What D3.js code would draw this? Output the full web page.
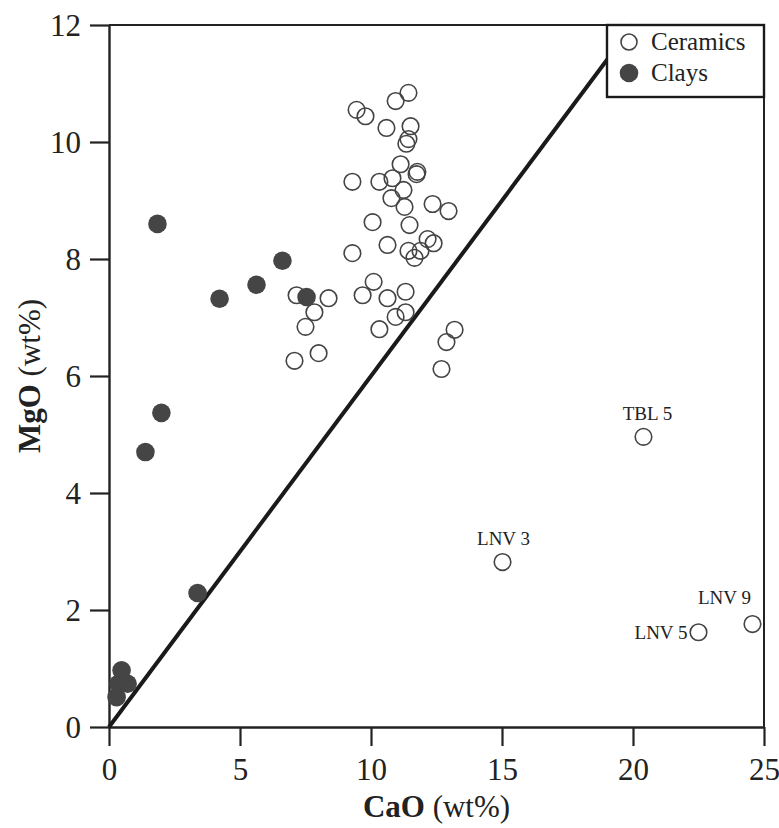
<!DOCTYPE html>
<html>
    <head>
        <meta charset="utf-8">
        <title>MgO vs CaO</title>
        <script type="text/javascript" src="https://cdn.jsdelivr.net/npm/d3@7/dist/d3.min.js"></script>
        <style>
            body{
                margin: 0;
                background: white;
            }
            svg text{
                font-family: "Liberation Serif", "Times New Roman", "DejaVu Serif", serif !important;
                fill: #222;
            }
            .ceramic{
                fill: none;
                stroke: #444;
                stroke-width: 1.6;
            }
            .clay{
                fill: #454545;
            }
            .ratio{
                stroke: #1a1a1a;
                stroke-width: 4;
            }
            .frame{
                fill: none;
                stroke: #222;
                stroke-width: 2;
            }
            .ticklabel{
                font-size: 31px;
            }
            .pointlabel{
                font-size: 19px;
            }
        </style>
    </head>
    <body>
        <script type="text/javascript">
            // ceramics, CaO (wt%)
            let ceramicCaO = [11.43,10.94,9.45,9.79,10.59,11.51,11.43,11.35,11.13,11.77,11.74,10.82,10.32,9.29,
                              11.24,10.78,11.28,12.35,12.96,10.06,11.47,12.16,12.39,10.63,9.29,11.43,11.89,11.66,
                              10.10,9.68,10.63,11.32,8.38,7.16,7.84,7.50,7.08,8.00,10.94,11.32,10.32,13.19,12.88,12.69,
                              20.40,15.02,22.50,24.56]
            // ceramics, MgO (wt%)
            let ceramicMgO = [10.84,10.70,10.55,10.44,10.24,10.27,10.05,9.97,9.62,9.49,9.45,9.38,9.32,9.32,
                              9.18,9.04,8.89,8.94,8.82,8.63,8.58,8.34,8.27,8.24,8.10,8.14,8.14,8.02,
                              7.61,7.38,7.33,7.44,7.33,7.38,7.09,6.84,6.26,6.39,7.01,7.09,6.80,6.79,6.58,6.12,
                              4.96,2.82,1.62,1.76]
            // ceramics with a sample name on the chart
            let labelNames = ["TBL 5","LNV 3","LNV 5","LNV 9"]
            let labelCaO = [20.40,15.02,22.50,24.56]
            let labelMgO = [4.96,2.82,1.62,1.76]

            // clays
            let clayCaO = [1.85,6.62,5.63,4.22,7.54,2.00,1.39,3.38,0.48,0.36,0.71,0.29]
            let clayMgO = [8.60,7.97,7.56,7.32,7.35,5.37,4.70,2.29,0.97,0.74,0.74,0.51]

            // reference line MgO = slope * CaO
            let lineSlope = 0.6

            let xTicks = [0,5,10,15,20,25]
            let yTicks = [0,2,4,6,8,10,12]
            let legendNames = ["Ceramics","Clays"]

            let w = 779
            let h = 828
            let mLeft = 109
            let mRight = 764
            let mTop = 25
            let mBottom = 727
            let serif = '"Liberation Serif", "Times New Roman", serif'

            let svg = d3.select("body")
                        .append("svg")
                        .attr("width", w)
                        .attr("height", h)
                        .attr("font-family", serif)

            let xScale = d3.scaleLinear().domain([0,25]).range([mLeft,mRight])
            let yScale = d3.scaleLinear().domain([0,12]).range([mBottom,mTop])

            // frame (top and right sides)
            svg.append("path")
                .attr("class","frame")
                .attr("d","M"+mLeft+","+mTop+"H"+mRight+"V"+mBottom)

            // axes
            let xAxis = svg.append("g")
                .attr("transform","translate(0,"+mBottom+")")
                .call(d3.axisBottom(xScale).tickValues(xTicks).tickSize(19).tickSizeOuter(0).tickPadding(10))
            let yAxis = svg.append("g")
                .attr("transform","translate("+mLeft+",0)")
                .call(d3.axisLeft(yScale).tickValues(yTicks).tickSize(19).tickSizeOuter(0).tickPadding(9))
            for (let ax of [xAxis,yAxis]){
                ax.attr("font-family", serif).attr("font-size", null)
                ax.select(".domain").attr("stroke","#222").attr("stroke-width",2.4)
                ax.selectAll(".tick line").attr("stroke","#222").attr("stroke-width",2.2)
                ax.selectAll(".tick text").attr("class","ticklabel").attr("fill","#222")
                    .style("font-family", serif)
            }
            xAxis.selectAll(".tick text").attr("dy","0.76em")
            yAxis.selectAll(".tick text").attr("dy","0.34em")

            // axis titles
            let xTitle = svg.append("text")
                .attr("x",(mLeft+mRight)/2)
                .attr("y",817)
                .attr("text-anchor","middle")
                .style("font-family", serif)
                .style("font-size","31px")
            xTitle.append("tspan").attr("font-weight","bold").text("CaO")
            xTitle.append("tspan").text(" (wt%)")

            let yTitle = svg.append("text")
                .attr("transform","translate(40,376) rotate(-90)")
                .attr("text-anchor","middle")
                .style("font-family", serif)
                .style("font-size","31px")
            yTitle.append("tspan").attr("font-weight","bold").text("MgO")
            yTitle.append("tspan").text(" (wt%)")

            // reference line
            svg.append("line")
                .attr("class","ratio")
                .attr("x1",xScale(0))
                .attr("y1",yScale(0))
                .attr("x2",xScale(12/lineSlope))
                .attr("y2",yScale(12))

            // clays
            svg.selectAll(".clay")
                .data(d3.zip(clayCaO,clayMgO))
                .join("circle")
                .attr("class","clay")
                .attr("cx",d=>xScale(d[0]))
                .attr("cy",d=>yScale(d[1]))
                .attr("r",9.3)

            // ceramics
            svg.selectAll(".ceramic")
                .data(d3.zip(ceramicCaO,ceramicMgO))
                .join("circle")
                .attr("class","ceramic")
                .attr("cx",d=>xScale(d[0]))
                .attr("cy",d=>yScale(d[1]))
                .attr("r",8.3)

            // sample names
            let labelPlace = {
                "TBL 5": {dx:4, dy:-17, anchor:"middle"},
                "LNV 3": {dx:1, dy:-17, anchor:"middle"},
                "LNV 5": {dx:-11, dy:7, anchor:"end"},
                "LNV 9": {dx:-28, dy:-20, anchor:"middle"}
            }
            for (let i=0; i<labelNames.length; i++){
                let p = labelPlace[labelNames[i]]
                svg.append("text")
                    .attr("class","pointlabel")
                    .attr("x",xScale(labelCaO[i])+p.dx)
                    .attr("y",yScale(labelMgO[i])+p.dy)
                    .attr("text-anchor",p.anchor)
                    .style("font-family", serif)
                    .text(labelNames[i])
            }

            // legend
            let legend = svg.append("g")
            legend.append("rect")
                .attr("x",607)
                .attr("y",mTop)
                .attr("width",mRight-607)
                .attr("height",72)
                .attr("fill","white")
                .attr("stroke","#1a1a1a")
                .attr("stroke-width",2.4)
            legendNames.forEach((name,i)=>{
                let cy = 42+i*31
                legend.append("circle")
                    .attr("class", i==0 ? "ceramic" : "clay")
                    .attr("cx",629)
                    .attr("cy",cy)
                    .attr("r", i==0 ? 8 : 9.3)
                legend.append("text")
                    .attr("x",651)
                    .attr("y",cy+8)
                    .style("font-family", serif)
                    .style("font-size","25px")
                    .text(name)
            })
        </script>
    </body>
</html>
